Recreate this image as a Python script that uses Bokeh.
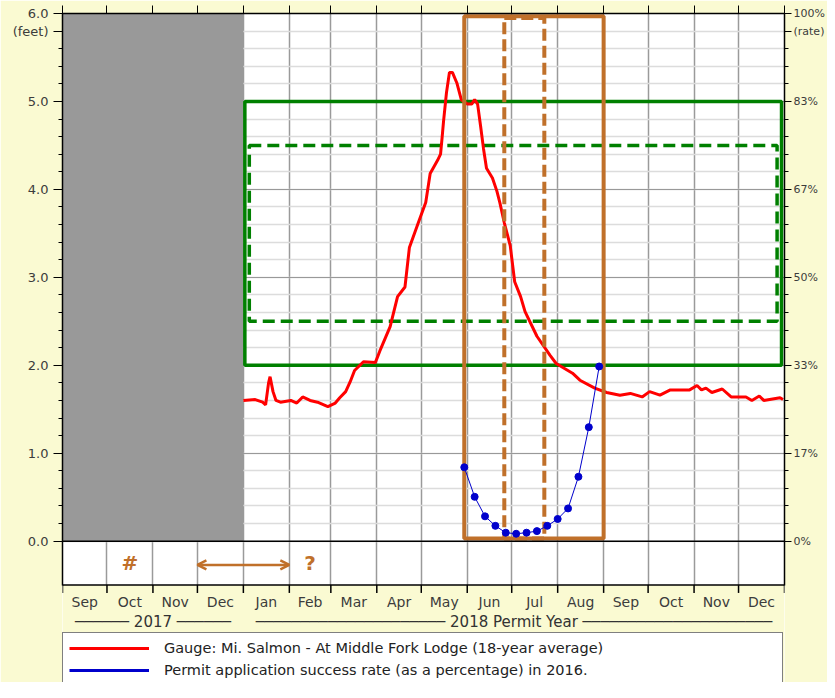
import pandas as pd
from bokeh.plotting import figure
from bokeh.models import (Range1d, LinearAxis, FixedTicker, Grid, Legend, LegendItem,
                          Arrow, OpenHead, Span, CustomJSTickFormatter,
                          PrintfTickFormatter)
from bokeh.embed import file_html
from bokeh.resources import INLINE
from bokeh.core.properties import value

ORIGIN = pd.Timestamp("2017-09-01")


def days(dates):
    return [float((pd.Timestamp(s) - ORIGIN).days) for s in dates]


# ---------------- data ----------------
month_starts = ["2017-09-01", "2017-10-01", "2017-11-01", "2017-12-01",
                "2018-01-01", "2018-02-01", "2018-03-01", "2018-04-01",
                "2018-05-01", "2018-06-01", "2018-07-01", "2018-08-01",
                "2018-09-01", "2018-10-01", "2018-11-01", "2018-12-01",
                "2019-01-01"]
month_labels = ["Sep", "Oct", "Nov", "Dec", "Jan", "Feb", "Mar", "Apr",
                "May", "Jun", "Jul", "Aug", "Sep", "Oct", "Nov", "Dec"]
year_starts = ["2017-09-01", "2018-01-01"]
year_ends = ["2018-01-01", "2019-01-01"]
year_labels = ["────── 2017 ──────",
               "───────────────────── 2018 Permit Year ─────────────────────"]

feet_ticks = [0, 1, 2, 3, 4, 5, 6]
feet_unit_tick, feet_unit_label = 5.8, "(feet)"
rate_tick_count = 6
rate_unit_label = "(rate)"

gauge_dates = ["2018-01-01", "2018-01-09", "2018-01-14", "2018-01-16", "2018-01-18",
               "2018-01-19", "2018-01-21", "2018-01-23", "2018-01-26", "2018-02-02",
               "2018-02-06", "2018-02-10", "2018-02-15", "2018-02-20", "2018-02-27",
               "2018-03-04", "2018-03-07", "2018-03-11", "2018-03-14", "2018-03-17",
               "2018-03-23", "2018-03-31", "2018-04-03", "2018-04-10", "2018-04-15",
               "2018-04-20", "2018-04-23", "2018-04-29", "2018-05-04", "2018-05-07",
               "2018-05-12", "2018-05-14", "2018-05-15", "2018-05-16", "2018-05-18",
               "2018-05-20", "2018-05-22", "2018-05-25", "2018-05-28", "2018-06-01",
               "2018-06-04", "2018-06-06", "2018-06-08", "2018-06-10", "2018-06-12",
               "2018-06-14", "2018-06-18", "2018-06-21", "2018-06-23", "2018-06-26",
               "2018-06-30", "2018-07-03", "2018-07-07", "2018-07-10", "2018-07-18",
               "2018-07-27", "2018-07-31", "2018-08-11", "2018-08-16", "2018-08-26",
               "2018-09-03", "2018-09-12", "2018-09-19", "2018-09-27", "2018-10-02",
               "2018-10-09", "2018-10-16", "2018-10-29", "2018-11-03", "2018-11-06",
               "2018-11-09", "2018-11-13", "2018-11-20", "2018-11-26", "2018-12-06",
               "2018-12-10", "2018-12-15", "2018-12-18", "2018-12-29", "2018-12-31"]
gauge_feet = [1.60, 1.61, 1.58, 1.55, 1.80,
              1.87, 1.70, 1.60, 1.58, 1.60,
              1.57, 1.64, 1.60, 1.58, 1.53,
              1.57, 1.63, 1.70, 1.81, 1.94,
              2.04, 2.03, 2.16, 2.44, 2.78,
              2.89, 3.34, 3.62, 3.85, 4.18,
              4.33, 4.40, 4.58, 4.77, 5.10,
              5.33, 5.33, 5.21, 5.02, 4.97,
              4.97, 5.02, 4.97, 4.72, 4.46,
              4.24, 4.13, 3.98, 3.85, 3.62,
              3.36, 2.95, 2.78, 2.61, 2.33,
              2.11, 2.02, 1.91, 1.83, 1.74,
              1.69, 1.66, 1.68, 1.64, 1.70,
              1.66, 1.72, 1.72, 1.77, 1.72,
              1.74, 1.69, 1.73, 1.64, 1.64,
              1.60, 1.65, 1.60, 1.63, 1.61]

rate_dates = ["2018-05-30", "2018-06-06", "2018-06-13", "2018-06-20", "2018-06-27",
              "2018-07-04", "2018-07-11", "2018-07-18", "2018-07-25", "2018-08-01",
              "2018-08-08", "2018-08-15", "2018-08-22", "2018-08-29"]
rate_pct = [14.0, 8.4, 4.7, 2.9, 1.6, 1.4, 1.6, 1.9, 2.9, 4.2, 6.2, 12.2, 21.6, 33.1]

# zones
unknown_start, unknown_end = ["2017-09-01"], ["2018-01-01"]
green_outer_dates = ["2018-01-02", "2018-12-30"]
green_outer_feet = [2.0, 5.0]
green_inner_dates = ["2018-01-05", "2018-12-27"]
green_inner_feet = [2.5, 4.5]
brown_outer_dates = ["2018-05-30", "2018-09-01"]
brown_inner_dates = ["2018-06-26", "2018-07-23"]
brown_feet = [0.03, 5.97]

strip_marks = ["#", "?"]
strip_mark_months = [1, 5]          # indices into month_labels
arrow_dates = ["2017-12-01", "2018-02-01"]

# ---------------- colours / layout constants ----------------
CREAM = "#FAFAD2"
BROWN = "#C0702A"
GREEN = "#008000"
RED = "#FF0000"
BLUE = "#0000CC"
LABEL = "#3c3c3c"
FONT = "DejaVu Sans"

Y_TOP = 6.0
Y_STRIP = -0.5          # bottom of the annotation strip
Y_BOTTOM = -1.6075      # bottom of the canvas (below the key)
Y_TICK_END = -0.589     # month tick marks below the strip
Y_MONTH = -0.691        # month labels
Y_YEAR = -0.917         # year labels
Y_MARK = -0.25          # symbols inside the strip
Y_ARROW = -0.27

# ---------------- figure ----------------
bounds = days(month_starts)
mids = [(a + b) / 2 for a, b in zip(bounds[:-1], bounds[1:])]
x_end = bounds[-1]
rate_per_foot = 100 / rate_tick_count

p = figure(width=827, height=682, output_backend="svg", toolbar_location=None,
           x_range=Range1d(0, x_end), y_range=Range1d(Y_BOTTOM, Y_TOP),
           x_axis_location=None, y_axis_location=None,
           min_border_left=62, min_border_right=42, min_border_top=13,
           min_border_bottom=0,
           background_fill_color="white", border_fill_color=CREAM,
           outline_line_color=None)
p.extra_y_ranges = {"rate": Range1d(Y_BOTTOM * rate_per_foot, 100),
                    "offscreen": Range1d(1000, 1001)}
p.center = [r for r in p.center if not isinstance(r, Grid)]

feet_minor = [round(0.2 * i, 1) for i in range(31)]
xg = Grid(dimension=0, ticker=FixedTicker(ticks=bounds),
          grid_line_color="#9a9a9a", grid_line_width=1.5)
yg = Grid(dimension=1, ticker=FixedTicker(ticks=feet_ticks, minor_ticks=feet_minor),
          grid_line_color="#999999", grid_line_width=1,
          minor_grid_line_color="#dcdcdc", minor_grid_line_width=1.5)
p.add_layout(xg, "center")
p.add_layout(yg, "center")

axis_common = dict(axis_line_color="black", axis_line_width=1.5,
                   major_tick_line_color="black",
                   minor_tick_line_color="black", major_tick_in=0, minor_tick_in=0,
                   major_label_text_font=FONT, major_label_text_color=LABEL)

left = LinearAxis(ticker=FixedTicker(ticks=feet_ticks + [feet_unit_tick],
                                     minor_ticks=feet_minor),
                  formatter=PrintfTickFormatter(format="%.1f"),
                  major_label_overrides={feet_unit_tick: feet_unit_label},
                  bounds=(Y_STRIP, Y_TOP),
                  major_tick_out=9, minor_tick_out=4, major_label_standoff=5,
                  major_label_text_font_size="13px", **axis_common)
p.add_layout(left, "left")

rate_ticks = [100 * i / rate_tick_count for i in range(rate_tick_count + 1)]
rate_minor = [100 * i / (rate_tick_count * 5) for i in range(rate_tick_count * 5 + 1)]
rate_unit_tick = feet_unit_tick * rate_per_foot
right = LinearAxis(y_range_name="rate",
                   ticker=FixedTicker(ticks=rate_ticks + [rate_unit_tick],
                                      minor_ticks=rate_minor),
                   formatter=CustomJSTickFormatter(code="return Math.round(tick) + '%';"),
                   major_label_overrides={rate_unit_tick: rate_unit_label},
                   bounds=(Y_STRIP * rate_per_foot, 100),
                   major_tick_out=7, minor_tick_out=4, major_label_standoff=2,
                   major_label_text_font_size="11px", **axis_common)
p.add_layout(right, "right")

top = LinearAxis(ticker=FixedTicker(ticks=bounds),
                 formatter=CustomJSTickFormatter(code="return '';"),
                 major_tick_out=8, major_label_standoff=0,
                 major_label_text_font_size="1px", **axis_common)
p.add_layout(top, "above")

# ---------------- marks ----------------
# area below the strip belongs to the page, not the plot
p.quad(left=[0], right=[x_end], bottom=[Y_BOTTOM], top=[Y_STRIP],
       fill_color=CREAM, line_color=None)
p.quad(left=days(unknown_start), right=days(unknown_end), bottom=[0], top=[6],
       fill_color="#999999", line_color=None)

p.add_layout(Span(location=0, dimension="width", line_color="black", line_width=1.5))
p.add_layout(Span(location=Y_STRIP, dimension="width", line_color="black",
                  line_width=1.5))

gx0, gx1 = days(green_outer_dates)
p.quad(left=[gx0], right=[gx1], bottom=[green_outer_feet[0]], top=[green_outer_feet[1]],
       fill_color=None, line_color=GREEN, line_width=3.5)
ix0, ix1 = days(green_inner_dates)
p.quad(left=[ix0], right=[ix1], bottom=[green_inner_feet[0]], top=[green_inner_feet[1]],
       fill_color=None, line_color=GREEN, line_width=3.5, line_dash="12 6")

red = p.line(days(gauge_dates), gauge_feet, line_color=RED, line_width=3)

bx0, bx1 = days(brown_outer_dates)
p.quad(left=[bx0], right=[bx1], bottom=[brown_feet[0]], top=[brown_feet[1]],
       fill_color=None, line_color=BROWN, line_width=4)
bi0, bi1 = days(brown_inner_dates)
p.quad(left=[bi0], right=[bi1], bottom=[brown_feet[0]], top=[brown_feet[1] - 0.02],
       fill_color=None, line_color=BROWN, line_width=4, line_dash="12 5")

p.line(days(rate_dates), rate_pct, y_range_name="rate", line_color=BLUE, line_width=1)
p.scatter(days(rate_dates), rate_pct, y_range_name="rate", size=7,
          fill_color=BLUE, line_color=BLUE)
# legend key for the blue series (thicker, as in the original key); drawn out of view
blue_key = p.line(days(rate_dates), rate_pct, y_range_name="offscreen",
                  line_color=BLUE, line_width=3)

# strip annotations
p.text(x=[mids[i] for i in strip_mark_months], y=[Y_MARK] * len(strip_marks),
       text=strip_marks, text_color=BROWN, text_font=value(FONT),
       text_font_style="bold", text_font_size="20px",
       text_align="center", text_baseline="middle")
ax0, ax1 = days(arrow_dates)
p.add_layout(Arrow(x_start=ax0, x_end=ax1, y_start=Y_ARROW, y_end=Y_ARROW,
                   line_color=BROWN, line_width=2.5,
                   start=OpenHead(size=9, line_color=BROWN, line_width=2.5),
                   end=OpenHead(size=9, line_color=BROWN, line_width=2.5)))

# month axis below the strip (tick marks + names), years under it
p.segment(x0=bounds, y0=[Y_STRIP] * len(bounds), x1=bounds,
          y1=[Y_TICK_END] * len(bounds), line_color="black", line_width=1.5)
p.text(x=mids, y=[Y_MONTH] * len(mids), text=month_labels, text_color=LABEL,
       text_font=value(FONT), text_font_size="14px",
       text_align="center", text_baseline="middle")
ys, ye = days(year_starts), days(year_ends)
year_mids = [(a + b) / 2 for a, b in zip(ys, ye)]
p.text(x=year_mids, y=[Y_YEAR] * len(year_mids), text=year_labels,
       text_color="#333333", text_font=value(FONT), text_font_size="15px",
       text_align="center", text_baseline="middle")

legend = Legend(items=[
    LegendItem(label="Gauge: Mi. Salmon - At Middle Fork Lodge (18-year average)",
               renderers=[red]),
    LegendItem(label="Permit application success rate (as a percentage) in 2016.",
               renderers=[blue_key])],
    location=(0, -4), orientation="vertical",
    glyph_width=80, glyph_height=18, label_height=18, label_standoff=15,
    label_width=612, padding=6, spacing=4, margin=0,
    border_line_color="black", border_line_width=1.5,
    background_fill_color="white", background_fill_alpha=1.0,
    label_text_font=FONT, label_text_font_size="14.5px", label_text_color="#222222")
p.add_layout(legend, "center")

open("out.html", "w").write(file_html(p, INLINE))
